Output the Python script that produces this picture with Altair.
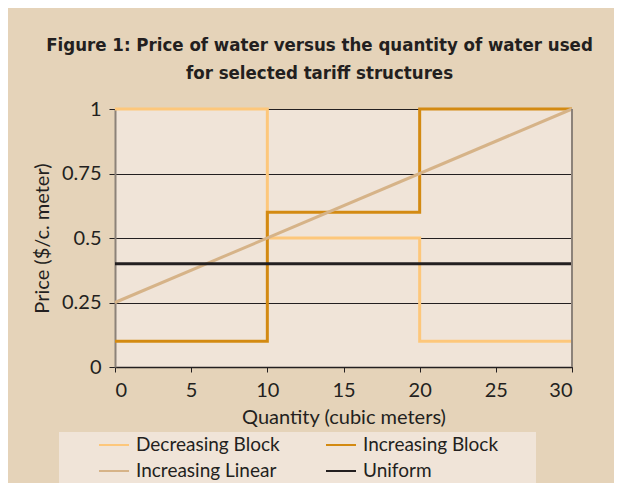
import altair as alt
import pandas as pd

# ---- data ----
quantity_steps = [0, 10, 20, 30]
decreasing_block = [1.0, 0.5, 0.1, 0.1]
increasing_block = [0.1, 0.6, 1.0, 1.0]
quantity_ends = [0, 30]
increasing_linear = [0.25, 1.0]
uniform = [0.4, 0.4]

series_names = ["Decreasing Block", "Increasing Block", "Increasing Linear", "Uniform"]
series_colors = ["#FDC77B", "#D38A12", "#D6B388", "#231F20"]
x_ticks = [0, 5, 10, 15, 20, 25, 30]
y_ticks = [0, 0.25, 0.5, 0.75, 1]

title_lines = ["Figure 1: Price of water versus the quantity of water used",
               "for selected tariff structures"]

# ---- tables ----
block_df = pd.DataFrame({
    "Quantity": quantity_steps + quantity_steps,
    "Price": decreasing_block + increasing_block,
    "Series": ["Decreasing Block"] * 4 + ["Increasing Block"] * 4,
})
straight_df = pd.DataFrame({
    "Quantity": quantity_ends + quantity_ends,
    "Price": increasing_linear + uniform,
    "Series": ["Increasing Linear"] * 2 + ["Uniform"] * 2,
})

FONT = "Lato"
TITLE_FONT = "DejaVu Sans Condensed"
DARK = "#231F20"
GRAY = "#8C8279"
OUTER = "#E5D3B9"
INNER = "#F0E4D8"

W, H = 457, 258

x_enc = alt.X("Quantity:Q",
              scale=alt.Scale(domain=[0, 30], nice=False),
              axis=alt.Axis(values=x_ticks, title="Quantity (cubic meters)", grid=False,
                            domainColor=DARK, domainWidth=1.5, tickColor=DARK, tickSize=5,
                            labelFontSize=20, labelPadding=8, labelColor=DARK, labelFont=FONT,
                            titleFontSize=20, titleFontWeight="normal", titleColor=DARK, titleFont=FONT,
                            titleX=W / 2, titleY=50, titleBaseline="middle"))
y_enc = alt.Y("Price:Q",
              scale=alt.Scale(domain=[0, 1], nice=False),
              axis=alt.Axis(values=y_ticks, format=".2~f", title="Price ($/c. meter)", grid=True,
                            gridColor=DARK, gridWidth=1, domainColor=GRAY, domainWidth=2,
                            tickColor=DARK, tickSize=6, labelFontSize=20, labelPadding=8,
                            labelColor=DARK, labelFont=FONT,
                            titleFontSize=20, titleFontWeight="normal", titleColor=DARK, titleFont=FONT,
                            titleX=-73, titleY=H / 2, titleBaseline="middle"))
color_enc = alt.Color("Series:N",
                      scale=alt.Scale(domain=series_names, range=series_colors),
                      legend=alt.Legend(title=None, orient="none", legendX=-17, legendY=320,
                                        direction="horizontal",
                                        columns=2, columnPadding=42, rowPadding=-5,
                                        symbolType="stroke", symbolSize=900, symbolStrokeWidth=2,
                                        labelFontSize=19, labelFont=FONT, labelColor=DARK,
                                        labelOffset=6, padding=0))

legend_box = alt.Chart(pd.DataFrame({"k": [0]})).mark_rect(fill=INNER).encode(
    x=alt.value(-56), x2=alt.value(421), y=alt.value(323), y2=alt.value(400))

blocks = alt.Chart(block_df).mark_line(interpolate="step-after", strokeWidth=3).encode(
    x=x_enc, y=y_enc, color=color_enc)
straight = alt.Chart(straight_df).mark_line(strokeWidth=3).encode(
    x=x_enc, y=y_enc, color=color_enc)

right_border = alt.Chart(pd.DataFrame({"k": [0]})).mark_rule(color=GRAY, strokeWidth=2).encode(
    x=alt.datum(30), y=alt.datum(0), y2=alt.datum(1))

chart = alt.layer(legend_box, blocks, straight, right_border).properties(
    width=W, height=H,
    padding={"left": 107, "top": 101, "right": 42, "bottom": 116},
    autosize=alt.AutoSizeParams(type="none"),
    background=OUTER,
    title=alt.TitleParams(text=title_lines, fontSize=18.5, font=TITLE_FONT,
                          fontWeight="bold", color=DARK, anchor="middle", dx=-24,
                          offset=16.5, lineHeight=28.5),
).configure_view(fill=INNER, strokeWidth=0)

chart.save("out.html", embed_options={"renderer": "svg", "actions": False})
